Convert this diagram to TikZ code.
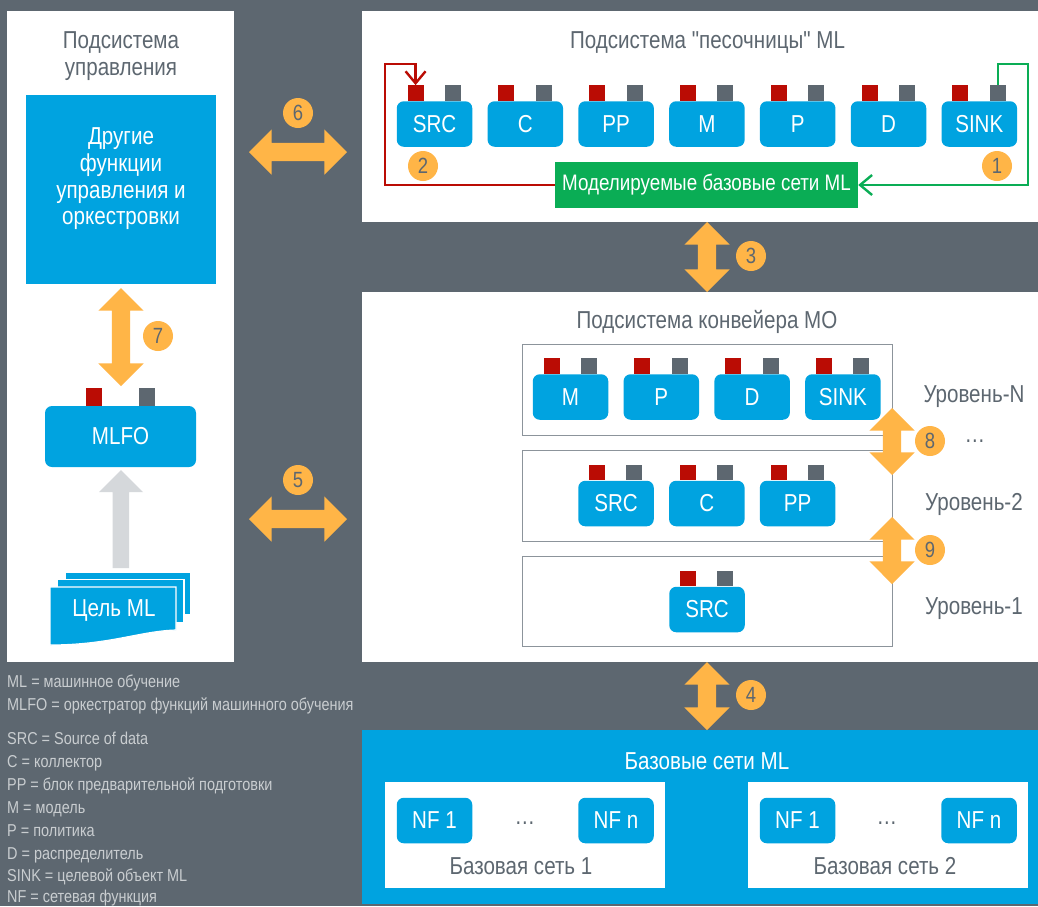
\documentclass[tikz,border=0pt]{standalone}
\usepackage{fontspec}
\setmainfont[FakeStretch=0.84]{Liberation Sans}
\newfontfamily\straightfont[FakeStretch=0.84]{Liberation Sans}
\usetikzlibrary{shapes.arrows, arrows.meta, positioning}
\definecolor{slategrey}{HTML}{5D6770}
\definecolor{mlblue}{HTML}{00A3E0}
\definecolor{mlgreen}{HTML}{0AAD55}
\definecolor{mlred}{HTML}{BA0C04}
\definecolor{mlorange}{HTML}{FFB547}
\definecolor{palegrey}{HTML}{D5D8DB}
\definecolor{tiergrey}{HTML}{8C949B}

% ports sit on the top edge of a block
\newcommand{\blockports}[1]{
  \node (#1in) [portin] at ([xshift=19pt]#1.north west) {};
  \node (#1out) [portout] at ([xshift=-19.5pt]#1.north east) {};
}

\begin{document}
\begin{tikzpicture}[x=1pt, y=-1pt, node distance=14.9pt]
% Define styles
\tikzstyle{panel} = [rectangle, anchor=north west, inner sep=0pt, fill=white]
\tikzstyle{tier} = [rectangle, anchor=north west, inner sep=0pt, minimum width=370, draw=tiergrey, line width=1.2pt, fill=white]
\tikzstyle{block} = [rectangle, rounded corners=7pt, minimum width=75.5, minimum height=45.5, inner sep=0pt, fill=mlblue, text=white, font=\fontsize{24.5}{28}\selectfont]
\tikzstyle{portin} = [rectangle, anchor=south, minimum width=16, minimum height=15.5, inner sep=0pt, fill=mlred]
\tikzstyle{portout} = [rectangle, anchor=south, minimum width=16, minimum height=15.5, inner sep=0pt, fill=slategrey]
\tikzstyle{title} = [inner sep=0pt, align=center, text=slategrey, font=\fontsize{24.5}{27}\selectfont]
\tikzstyle{badge} = [circle, minimum size=30, inner sep=0pt, fill=mlorange, text=slategrey, font=\fontsize{22}{24}\selectfont]
\tikzstyle{duplex} = [double arrow, double arrow head extend=13.5, double arrow tip angle=90, inner sep=9pt, fill=mlorange]
\tikzstyle{legend} = [anchor=base west, inner sep=0pt, text=palegrey!90!slategrey, font=\fontsize{17.2}{20}\selectfont]
\tikzstyle{redline} = [draw=mlred, line width=2.4pt]
\tikzstyle{greenline} = [draw=mlgreen, line width=2.4pt]
\tikzstyle{sheet} = [fill=mlblue, draw=white, line width=1.2pt]

\useasboundingbox (0,0) rectangle (1038,906);
\fill[slategrey] (0,0) rectangle (1038,906);

% Panels
\node (ctrlpanel) [panel, minimum width=227, minimum height=651] at (7,11) {};
\node (sandpanel) [panel, minimum width=676, minimum height=211] at (362,11) {};
\node (pipepanel) [panel, minimum width=676, minimum height=370] at (362,292) {};
\node (basepanel) [panel, minimum width=676, minimum height=174, fill=mlblue] at (362,730) {};

% Control subsystem
\node (ctrltitle) [title] at (121,56) {Подсистема\\управления};
\node (orch) [panel, minimum width=190, minimum height=189, fill=mlblue] at (26,95) {};
\node (orchtext) [title, text=white, font=\fontsize{24.5}{26.6}\selectfont] at (121,179) {Другие\\функции\\управления и\\оркестровки};
\node (mlfo) [block, minimum width=151, minimum height=61] at (120.5,436.5) {MLFO};
\node (mlfoin) [portin, minimum height=18] at (94,406) {};
\node (mlfoout) [portout, minimum height=18] at (147,406) {};

% ML intent sheets
\filldraw[sheet] (65,572) -- (191,572) -- (191,615) -- (65,615) -- cycle;
\filldraw[sheet] (57.5,579.5) -- (184,579.5) -- (184,622.5) -- (57.5,622.5) -- cycle;
\filldraw[sheet] (50,587) -- (176,587) -- (176,630) .. controls (140,631) and (110,645) .. (50,645) -- cycle;
\node (intent) [inner sep=0pt, text=white, font=\fontsize{24.5}{27}\selectfont] at (114,610) {Цель ML};
\fill[palegrey] (112.5,568) -- (129,568) -- (129,492) -- (143,492) -- (121,470) -- (99,492) -- (112.5,492) -- cycle;

% Sandbox subsystem
\node (sandtitle) [title] at (707.5,42.5) {Подсистема {\straightfont"}песочницы{\straightfont"} ML};
\node (src) [block] at (434.5,124) {SRC};
\node (c) [block, right=of src] {C};
\node (pp) [block, right=of c] {PP};
\node (m) [block, right=of pp] {M};
\node (p) [block, right=of m] {P};
\node (d) [block, right=of p] {D};
\node (sink) [block, right=of d] {SINK};
\foreach \blk in {src, c, pp, m, p, d, sink} {\blockports{\blk}}
\node (mlnets) [rectangle, minimum width=303, minimum height=46, inner sep=0pt, fill=mlgreen, text=white, font=\fontsize{22.4}{26}\selectfont] at (706.5,185) {Моделируемые базовые сети ML};
\coordinate (redcorner) at (385,64);
\coordinate (greencorner) at (1028,64);
\draw[redline, -{Straight Barb[length=12pt,width=20pt]}] (mlnets.west) -| (redcorner) -| (srcin.north);
\draw[greenline, -{Straight Barb[length=12pt,width=20pt]}] (sinkout.north) |- (greencorner) |- (mlnets.east);

% Pipeline subsystem
\node (pipetitle) [title] at (707,321.5) {Подсистема конвейера МО};
\node (tiern) [tier, minimum height=91] at (522,344) {};
\node (tiertwo) [tier, minimum height=91] at (522,450) {};
\node (tierone) [tier, minimum height=90] at (522,556) {};
\node (nm) [block] at (570.5,397) {M};
\node (np) [block, right=of nm] {P};
\node (nd) [block, right=of np] {D};
\node (nsink) [block, right=of nd] {SINK};
\node (tsrc) [block] at (616,503.5) {SRC};
\node (tc) [block, right=of tsrc] {C};
\node (tpp) [block, right=of tc] {PP};
\node (osrc) [block] at (707,609.5) {SRC};
\foreach \blk in {nm, np, nd, nsink, tsrc, tc, tpp, osrc} {\blockports{\blk}}
\node (leveln) [title] at (974,397) {Уровень-N};
\node (dots) [title] at (975,441) {\dots};
\node (leveltwo) [title] at (974,504) {Уровень-2};
\node (levelone) [title] at (974,609) {Уровень-1};

% Base networks
\node (basetitle) [title, text=white] at (707,761) {Базовые сети ML};
\node (netone) [panel, minimum width=280, minimum height=106] at (385,782) {};
\node (nettwo) [panel, minimum width=280, minimum height=106] at (748,782) {};
\node (nfa) [block] at (434.5,820.5) {NF 1};
\node (nfb) [block] at (616,820.5) {NF n};
\node (nfc) [block] at (797.5,820.5) {NF 1};
\node (nfd) [block] at (979,820.5) {NF n};
\node (dotsa) [title] at (525,823) {\dots};
\node (dotsb) [title] at (887,823) {\dots};
\node (netonetext) [title] at (521,866) {Базовая сеть 1};
\node (nettwotext) [title] at (885,866) {Базовая сеть 2};

% Double arrows
\node (arrsix) [duplex, minimum height=98] at (298,152) {};
\node (arrfive) [duplex, minimum height=98] at (298,519) {};
\node (arrthree) [duplex, shape border rotate=90, minimum height=70] at (707,257) {};
\node (arrfour) [duplex, shape border rotate=90, minimum height=68] at (707,696) {};
\node (arrseven) [duplex, shape border rotate=90, minimum height=98] at (121,337) {};
\node (arreight) [duplex, shape border rotate=90, minimum height=67] at (892,441.5) {};
\node (arrnine) [duplex, shape border rotate=90, minimum height=67] at (892,550.5) {};

% Badges
\node (bone) [badge] at (997,166) {1};
\node (btwo) [badge] at (423,166) {2};
\node (bthree) [badge] at (751,256) {3};
\node (bfour) [badge] at (751,695) {4};
\node (bfive) [badge] at (298,480) {5};
\node (bsix) [badge] at (298,113) {6};
\node (bseven) [badge] at (158,336) {7};
\node (beight) [badge] at (930,441) {8};
\node (bnine) [badge] at (930,550) {9};

% Legend
\node (lgml) [legend] at (7,687) {ML = машинное обучение};
\node (lgmlfo) [legend] at (7,710) {MLFO = оркестратор функций машинного обучения};
\node (lgsrc) [legend] at (7,744) {SRC = Source of data};
\node (lgc) [legend] at (7,767) {C = коллектор};
\node (lgpp) [legend] at (7,790) {PP = блок предварительной подготовки};
\node (lgm) [legend] at (7,813) {M = модель};
\node (lgp) [legend] at (7,836) {P = политика};
\node (lgd) [legend] at (7,859) {D = распределитель};
\node (lgsink) [legend] at (7,881) {SINK = целевой объект ML};
\node (lgnf) [legend] at (7,902) {NF = сетевая функция};
\end{tikzpicture}
\end{document}
